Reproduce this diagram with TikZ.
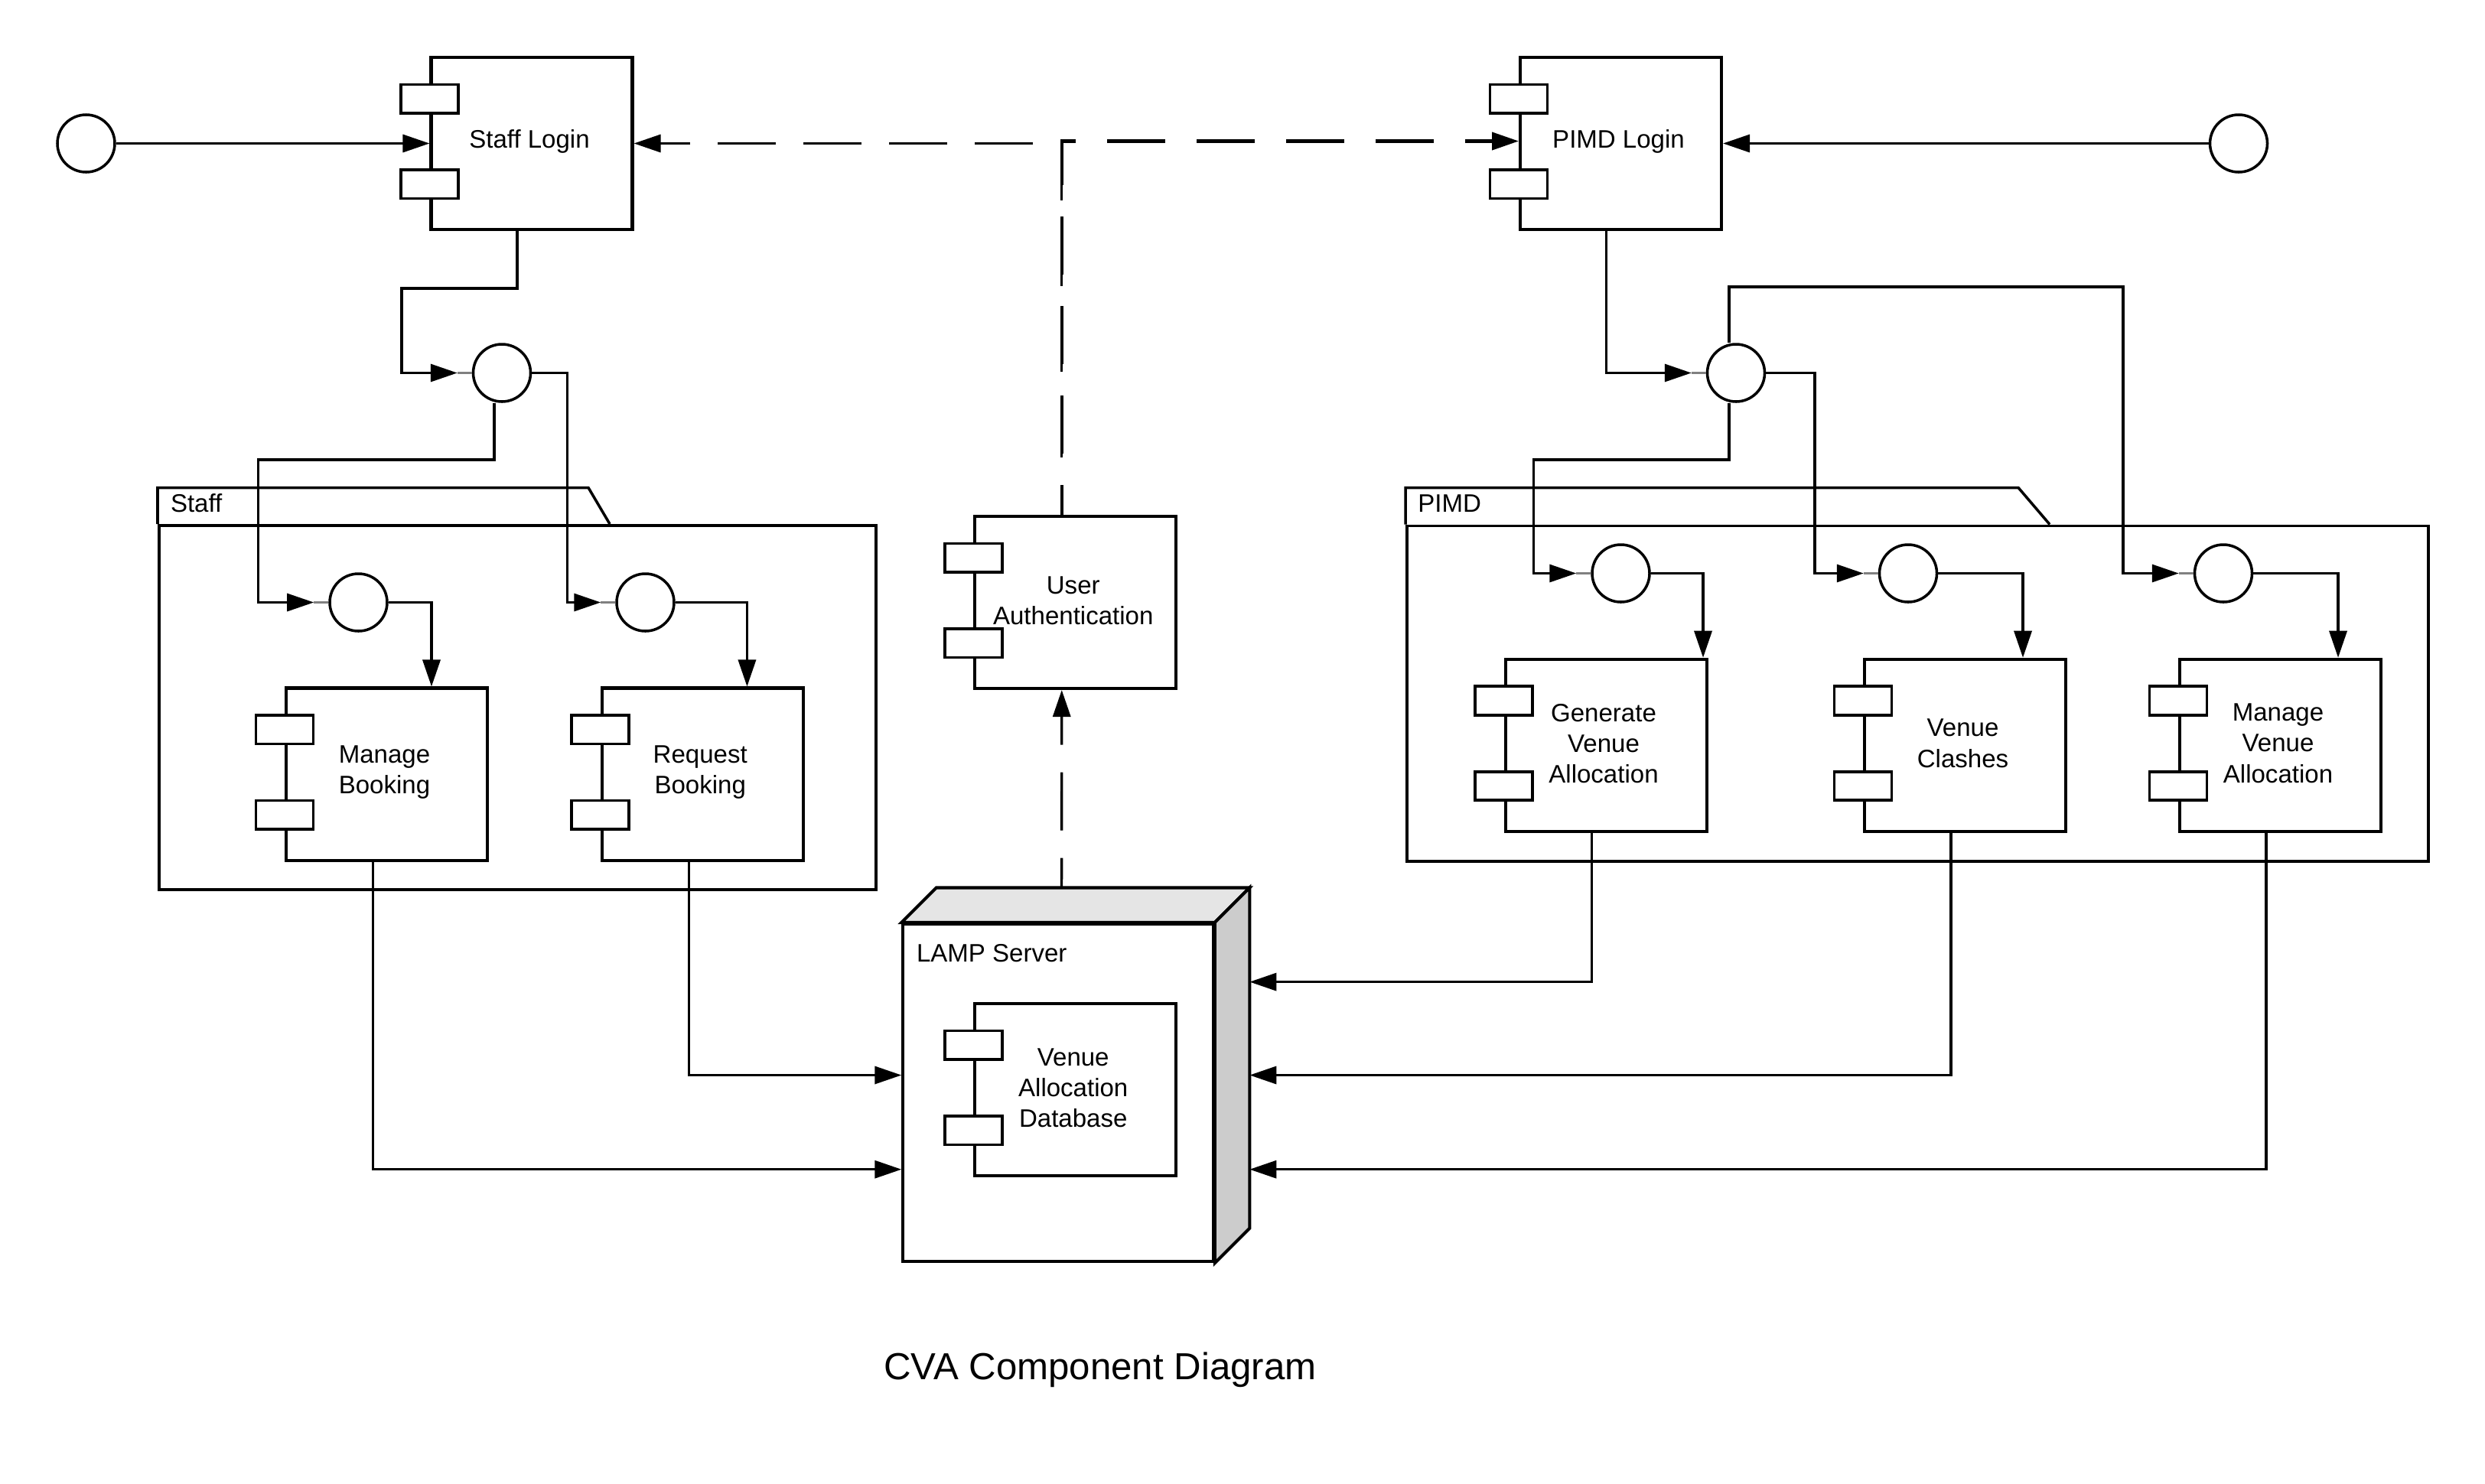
\documentclass[tikz,border=0pt]{standalone}
\usepackage{fontspec}
\setmainfont{Liberation Sans}
\usetikzlibrary{arrows.meta,calc}
\newcommand\compports[1]{%
  \draw[port] ($(#1.north west)+(-0.375,-0.375)$) rectangle ++(0.75,-0.375);
  \draw[port] ($(#1.north west)+(-0.375,-1.49)$) rectangle ++(0.75,-0.375);}
\begin{document}
\begin{tikzpicture}[
  lbl/.style={font=\fontsize{9.4}{11.4}\selectfont,inner sep=0pt},
  comp/.style={draw,line width=1.15pt,fill=white,minimum width=2.63cm,minimum height=2.25cm,inner sep=0pt},
  ctext/.style={label={[font=\fontsize{9.4}{11.4}\selectfont,align=center,inner sep=0pt,xshift=-0.03cm,yshift=0.025cm]center:#1}},
  port/.style={draw,line width=1pt,fill=white},
  iface/.style={draw,circle,line width=1pt,minimum size=0.75cm,inner sep=0pt,fill=white},
  conn/.style={line width=0.95pt},
  arr/.style={conn,-{Triangle[length=3.5mm,width=2.3mm]}},
  dashline/.style={dash pattern=on 7.6mm off 3.6mm,dash phase=3.7mm},
  dashlong/.style={dash pattern=on 7.6mm off 4.1mm,dash phase=3.7mm,line width=1.15pt},
  stub/.style={gray,line width=0.95pt},
  pkg/.style={draw,line width=1pt},
]
\fill[white] (0,0) rectangle (32.48,-19.39);
\useasboundingbox (0,0) rectangle (32.48,-19.39);

% packages
\draw[pkg] (2.06,-6.85) -- (2.06,-6.375) -- (7.69,-6.375) -- (7.97,-6.85);
\node[pkg,minimum width=9.37cm,minimum height=4.76cm,inner sep=0pt,anchor=north west] (staffpkg) at (2.06,-6.85) {};
\node[lbl,anchor=base west] (stafflbl) at (2.223,-6.695) {Staff};
\draw[pkg] (18.37,-6.855) -- (18.37,-6.375) -- (26.38,-6.375) -- (26.79,-6.855);
\node[pkg,minimum width=13.35cm,minimum height=4.385cm,inner sep=0pt,anchor=north west] (pimdpkg) at (18.37,-6.855) {};
\node[lbl,anchor=base west] (pimdlbl) at (18.526,-6.695) {PIMD};

% LAMP server node
\node[draw,line width=1.15pt,fill=white,minimum width=4.055cm,minimum height=4.41cm,inner sep=0pt] (LAMP) at (13.8305,-14.285) {};
\draw[line width=1.15pt,fill=black!10] (LAMP.north west) -- ++(0.455,0.455) -- ($(LAMP.north east)+(0.455,0.455)$) -- (LAMP.north east) -- cycle;
\draw[line width=1.15pt,fill=black!20] (LAMP.north east) -- ++(0.455,0.455) -- ($(LAMP.south east)+(0.455,0.455)$) -- (LAMP.south east) -- cycle;
\coordinate (lamptop) at ($(LAMP.north)+(0.045,0.455)$);
\node[lbl,anchor=base west] (lamplbl) at (11.973,-12.578) {LAMP Server};

% interface circles
\node[iface] (Lcirc) at (1.125,-1.875) {};
\node[iface] (Rcirc) at (29.26,-1.875) {};
\node[iface] (Scirc) at (6.56,-4.875) {};
\node[iface] (Pcirc) at (22.69,-4.875) {};
\node[iface] (S1) at (4.685,-7.875) {};
\node[iface] (S2) at (8.435,-7.875) {};
\node[iface] (P1) at (21.185,-7.495) {};
\node[iface] (P2) at (24.94,-7.495) {};
\node[iface] (P3) at (29.06,-7.495) {};

% components
\node[comp,ctext={Staff Login}] (SL) at (6.95,-1.875) {};
\node[comp,ctext={PIMD Login}] (PL) at (21.185,-1.875) {};
\node[comp,ctext={User\\Authentication}] (UA) at (14.0575,-7.875) {};
\node[comp,ctext={Manage\\Booking}] (MB) at (5.055,-10.12) {};
\node[comp,ctext={Request\\Booking}] (RB) at (9.1825,-10.12) {};
\node[comp,ctext={Venue\\Allocation\\Database}] (VAD) at (14.0575,-14.245) {};
\node[comp,ctext={Generate\\Venue\\Allocation}] (Gen) at (20.99,-9.7425) {};
\node[comp,ctext={Venue\\Clashes}] (VC) at (25.685,-9.7425) {};
\node[comp,ctext={Manage\\Venue\\Allocation}] (MVA) at (29.805,-9.7425) {};
\foreach \c in {SL,PL,UA,MB,RB,VAD,Gen,VC,MVA}{\compports{\c}}

% connectors
\draw[arr] (Lcirc.east) -- (SL.west);
\draw[arr] (Rcirc.west) -- (PL.east);
\draw[arr,dashline] ([xshift=-0.18cm]UA.north) |- (SL.east);
\draw[arr,dashlong] ([xshift=-0.18cm]UA.north) |- ([yshift=0.03cm]PL.west);
\draw[arr,dashline] (lamptop) -- ([xshift=-0.18cm]UA.south);

\draw[arr,shorten >=0.19cm] ([xshift=-0.19cm]SL.south) |- (5.25,-3.77) |- (Scirc.west);
\draw[arr,shorten >=0.19cm] (Scirc.east) -- (7.415,-4.875) |- (S2.west);
\draw[arr,shorten >=0.19cm] ([xshift=-0.1cm]Scirc.south) |- (3.375,-6.01) |- (S1.west);
\draw[arr] (S1.east) -| ([xshift=0.585cm]MB.north);
\draw[arr] (S2.east) -| ([xshift=0.582cm]RB.north);
\draw[arr] ([xshift=-0.18cm]MB.south) |- ([yshift=-1.002cm]LAMP.west);
\draw[arr] ([xshift=-0.18cm]RB.south) |- ([yshift=0.23cm]LAMP.west);

\draw[arr,shorten >=0.19cm] ([xshift=-0.19cm]PL.south) |- (Pcirc.west);
\draw[arr,shorten >=0.19cm] ([xshift=-0.09cm]Pcirc.north) |- (27.75,-3.75) |- (P3.west);
\draw[arr,shorten >=0.19cm] (Pcirc.east) -- (23.72,-4.875) |- (P2.west);
\draw[arr,shorten >=0.19cm] ([xshift=-0.09cm]Pcirc.south) |- (20.045,-6.01) |- (P1.west);
\draw[arr] (P1.east) -| ([xshift=1.27cm]Gen.north);
\draw[arr] (P2.east) -| ([xshift=0.755cm]VC.north);
\draw[arr] (P3.east) -| ([xshift=0.755cm]MVA.north);
\draw[arr] ([xshift=-0.185cm]Gen.south) |- ([xshift=0.455cm,yshift=1.449cm]LAMP.east);
\draw[arr] ([xshift=-0.185cm]VC.south) |- ([xshift=0.455cm,yshift=0.23cm]LAMP.east);
\draw[arr] ([xshift=-0.185cm]MVA.south) |- ([xshift=0.455cm,yshift=-1.002cm]LAMP.east);

% stubs between arrow tips and interface circles
\foreach \c in {Scirc,S1,S2,Pcirc,P1,P2,P3}{\draw[stub] (\c.west) -- ++(-0.19,0);}

% title
\node[font=\fontsize{14}{16}\selectfont,anchor=base] (title) at (14.38,-18.036) {CVA Component Diagram};
\end{tikzpicture}
\end{document}
